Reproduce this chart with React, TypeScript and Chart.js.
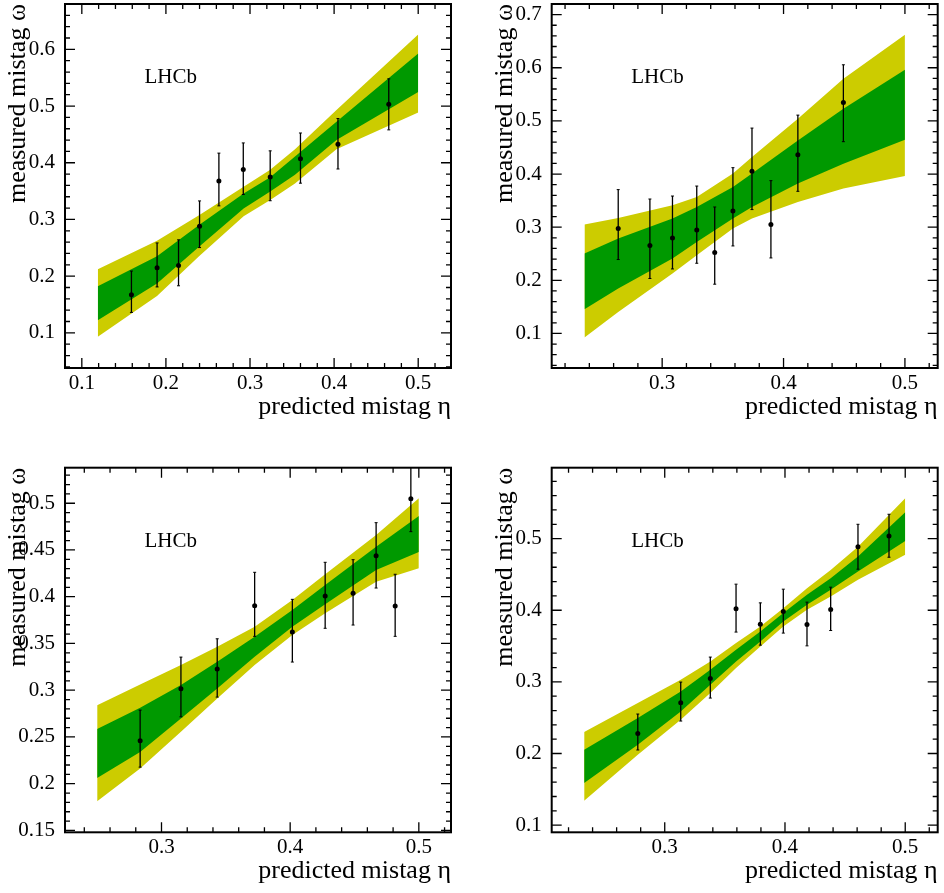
import React, { useEffect, useRef } from "react";
import { Chart, registerables } from "chart.js";

Chart.register(...registerables);

// ---------- Panel A (top left) ----------
const etaA = [0.159, 0.1895, 0.215, 0.240, 0.263, 0.292, 0.324, 0.360, 0.4046, 0.465];
const omegaA = [0.167, 0.2146, 0.2187, 0.288, 0.368, 0.388, 0.375, 0.407, 0.4326, 0.503];
const omegaHiA = [0.209, 0.2586, 0.264, 0.3327, 0.417, 0.435, 0.421, 0.4525, 0.478, 0.548];
const omegaLoA = [0.136, 0.181, 0.183, 0.2504, 0.324, 0.344, 0.333, 0.364, 0.389, 0.458];
const bandEtaA = [0.119, 0.1894, 0.2394, 0.2924, 0.3236, 0.3535, 0.4028, 0.5];
const twoSigUpA = [0.2123, 0.2623, 0.3076, 0.3575, 0.3870, 0.4240, 0.4930, 0.6263];
const oneSigUpA = [0.1824, 0.2353, 0.2900, 0.3458, 0.3741, 0.4110, 0.4722, 0.5928];
const oneSigLoA = [0.1224, 0.1871, 0.2517, 0.3194, 0.3487, 0.3790, 0.4400, 0.5250];
const twoSigLoA = [0.0930, 0.1650, 0.2353, 0.3058, 0.3340, 0.3635, 0.4240, 0.4887];
const xTicksA = [0.1, 0.2, 0.3, 0.4, 0.5];
const yTicksA = [0.1, 0.2, 0.3, 0.4, 0.5, 0.6];

// ---------- Panel B (top right) ----------
const etaB = [0.2638, 0.2899, 0.3085, 0.3285, 0.3433, 0.3583, 0.374, 0.3896, 0.4118, 0.4493];
const omegaB = [0.2974, 0.2654, 0.2797, 0.2947, 0.2523, 0.3305, 0.4051, 0.3049, 0.4365, 0.5348];
const omegaHiB = [0.3707, 0.353, 0.3586, 0.3774, 0.338, 0.412, 0.4865, 0.3876, 0.5109, 0.6056];
const omegaLoB = [0.2391, 0.2034, 0.2214, 0.2321, 0.1927, 0.2647, 0.3331, 0.2421, 0.3675, 0.4609];
const bandEtaB = [0.236, 0.2638, 0.3085, 0.3285, 0.3583, 0.374, 0.4118, 0.4493, 0.5];
const twoSigUpB = [0.3049, 0.3173, 0.3412, 0.3568, 0.4008, 0.432, 0.5041, 0.5793, 0.662];
const oneSigUpB = [0.2504, 0.2786, 0.3162, 0.338, 0.3756, 0.4008, 0.4633, 0.5229, 0.5962];
const oneSigLoB = [0.1457, 0.1846, 0.241, 0.2722, 0.3162, 0.338, 0.382, 0.4195, 0.4647];
const twoSigLoB = [0.0925, 0.1406, 0.2128, 0.2472, 0.2974, 0.3162, 0.3474, 0.3726, 0.3962];
const xTicksB = [0.3, 0.4, 0.5];
const yTicksB = [0.1, 0.2, 0.3, 0.4, 0.5, 0.6, 0.7];

// ---------- Panel C (bottom left) ----------
const etaC = [0.2834, 0.3151, 0.3433, 0.3724, 0.4017, 0.4272, 0.4489, 0.4668, 0.4816, 0.4938];
const omegaC = [0.2458, 0.3015, 0.3226, 0.3904, 0.3622, 0.4007, 0.4036, 0.4439, 0.39, 0.5049];
const omegaHiC = [0.2787, 0.3354, 0.355, 0.4261, 0.3972, 0.4368, 0.4396, 0.4792, 0.424, 0.54];
const omegaLoC = [0.2177, 0.2715, 0.2926, 0.3576, 0.3301, 0.3662, 0.3697, 0.4093, 0.3576, 0.4696];
const bandEtaC = [0.25, 0.2834, 0.3151, 0.3433, 0.3724, 0.4017, 0.4272, 0.4668, 0.5];
const twoSigUpC = [0.284, 0.3062, 0.3269, 0.3465, 0.3679, 0.3965, 0.424, 0.4661, 0.5054];
const oneSigUpC = [0.2584, 0.2812, 0.3055, 0.3304, 0.3572, 0.3858, 0.4125, 0.4535, 0.4864];
const oneSigLoC = [0.2062, 0.234, 0.2698, 0.3019, 0.3358, 0.3679, 0.3919, 0.4286, 0.4479];
const twoSigLoC = [0.1813, 0.2163, 0.2555, 0.2912, 0.3269, 0.359, 0.3822, 0.4161, 0.4304];
const xTicksC = [0.3, 0.4, 0.5];
const yTicksC = [0.15, 0.2, 0.25, 0.3, 0.35, 0.4, 0.45, 0.5];

// ---------- Panel D (bottom right) ----------
const etaD = [0.2776, 0.3133, 0.3379, 0.3593, 0.3795, 0.3986, 0.4183, 0.438, 0.4607, 0.4865];
const omegaD = [0.228, 0.2708, 0.3047, 0.402, 0.3806, 0.3982, 0.38, 0.401, 0.4888, 0.5038];
const omegaHiD = [0.2551, 0.2997, 0.3346, 0.4364, 0.4103, 0.4294, 0.4113, 0.4322, 0.52, 0.534];
const omegaLoD = [0.2049, 0.2453, 0.2774, 0.3695, 0.3513, 0.3681, 0.3503, 0.3717, 0.4573, 0.474];
const bandEtaD = [0.233, 0.2776, 0.3133, 0.3379, 0.3593, 0.3795, 0.3986, 0.4183, 0.438, 0.4607, 0.5];
const twoSigUpD = [0.2300, 0.2704, 0.3029, 0.3285, 0.3541, 0.3773, 0.4029, 0.4308, 0.4563, 0.4888, 0.5563];
const oneSigUpD = [0.2053, 0.2495, 0.2866, 0.3169, 0.3448, 0.3703, 0.3960, 0.4215, 0.4448, 0.4749, 0.5368];
const oneSigLoD = [0.1589, 0.2123, 0.2587, 0.2960, 0.3285, 0.3563, 0.3842, 0.4075, 0.4285, 0.4540, 0.4968];
const twoSigLoD = [0.1342, 0.1983, 0.2471, 0.2844, 0.3192, 0.3494, 0.3773, 0.4006, 0.4191, 0.4424, 0.4773];
const xTicksD = [0.3, 0.4, 0.5];
const yTicksD = [0.1, 0.2, 0.3, 0.4, 0.5];

const X_TITLE = "predicted mistag η";
const Y_TITLE = "measured mistag ω";
const LABEL = "LHCb";

const FONT = '"Liberation Serif", "Times New Roman", Times, serif';
const GREEN = "rgb(0,153,0)";
const YELLOW = "rgb(204,204,0)";

const fmt = (v: number) => String(Number(v.toFixed(3)));

const rootFramePlugin = {
  id: "rootFrame",
  beforeDatasetDraw(chart: any, args: any, opts: any) {
    if (args.index !== 0) return;
    const { ctx, chartArea: a, scales } = chart;
    const xs = scales.x;
    const ys = scales.y;
    ctx.save();
    ctx.beginPath();
    ctx.rect(a.left, a.top, a.right - a.left, a.bottom - a.top);
    ctx.clip();
    ctx.strokeStyle = "#000";
    ctx.lineWidth = 1.3;
    ctx.beginPath();
    opts.eta.forEach((e: number, i: number) => {
      const px = xs.getPixelForValue(e);
      ctx.moveTo(px, ys.getPixelForValue(opts.hi[i]));
      ctx.lineTo(px, ys.getPixelForValue(opts.lo[i]));
    });
    ctx.stroke();
    ctx.lineWidth = 1;
    ctx.beginPath();
    opts.eta.forEach((e: number, i: number) => {
      const px = xs.getPixelForValue(e);
      const hi = ys.getPixelForValue(opts.hi[i]);
      const lo = ys.getPixelForValue(opts.lo[i]);
      ctx.moveTo(px - 1.5, hi);
      ctx.lineTo(px + 1.5, hi);
      ctx.moveTo(px - 1.5, lo);
      ctx.lineTo(px + 1.5, lo);
    });
    ctx.stroke();
    ctx.restore();
  },
  afterDraw(chart: any, _args: any, opts: any) {
    const { ctx, chartArea: a, scales } = chart;
    const xs = scales.x;
    const ys = scales.y;
    const MAJ = 10;
    const MIN = 5;
    const marks = (majors: number[], lo: number, hi: number) => {
      const step = majors[1] - majors[0];
      const m = step / 5;
      const out: { v: number; major: boolean }[] = [];
      for (let k = -60; k <= 60 + (majors.length - 1) * 5; k++) {
        const v = majors[0] + k * m;
        if (v < lo - 1e-9 || v > hi + 1e-9) continue;
        out.push({ v, major: ((k % 5) + 5) % 5 === 0 });
      }
      return out;
    };
    ctx.save();
    ctx.strokeStyle = "#000";
    ctx.lineWidth = 1.3;
    ctx.beginPath();
    marks(opts.xTicks, xs.min, xs.max).forEach(({ v, major }) => {
      const px = xs.getPixelForValue(v);
      const len = major ? MAJ : MIN;
      ctx.moveTo(px, a.bottom);
      ctx.lineTo(px, a.bottom - len);
      ctx.moveTo(px, a.top);
      ctx.lineTo(px, a.top + len);
    });
    marks(opts.yTicks, ys.min, ys.max).forEach(({ v, major }) => {
      const py = ys.getPixelForValue(v);
      const len = major ? MAJ : MIN;
      ctx.moveTo(a.left, py);
      ctx.lineTo(a.left + len, py);
      ctx.moveTo(a.right, py);
      ctx.lineTo(a.right - len, py);
    });
    ctx.stroke();
    ctx.lineWidth = 2;
    ctx.strokeRect(a.left, a.top, a.right - a.left, a.bottom - a.top);
    ctx.fillStyle = "#000";
    ctx.font = `21px ${FONT}`;
    ctx.textAlign = "left";
    ctx.textBaseline = "alphabetic";
    ctx.fillText(opts.label, a.left + 79.5, a.top + 79);
    ctx.restore();
  },
};

type PanelProps = {
  left: number;
  top: number;
  w: number;
  h: number;
  pad: { left: number; top: number; right: number; bottom: number };
  xMin: number;
  xMax: number;
  yMin: number;
  yMax: number;
  eta: number[];
  omega: number[];
  hi: number[];
  lo: number[];
  bandEta: number[];
  twoUp: number[];
  oneUp: number[];
  oneLo: number[];
  twoLo: number[];
  xTicks: number[];
  yTicks: number[];
};

function Panel(p: PanelProps) {
  const ref = useRef<HTMLCanvasElement>(null);
  useEffect(() => {
    const pts = p.eta.map((x, i) => ({ x, y: p.omega[i] }));
    const line = (ys: number[]) => p.bandEta.map((x, i) => ({ x, y: ys[i] }));
    const bandStyle = {
      showLine: true,
      borderWidth: 1,
      borderColor: "rgba(0,0,0,0)",
      pointRadius: 0,
      tension: 0,
    };
    const zeroPad = (s: any) => {
      s.paddingTop = 0;
      s.paddingBottom = 0;
      s.paddingLeft = 0;
      s.paddingRight = 0;
    };
    const chart = new Chart(ref.current as HTMLCanvasElement, {
      type: "line",
      data: {
        datasets: [
          {
            label: "data",
            data: pts,
            showLine: false,
            pointRadius: 2.5,
            pointBackgroundColor: "#000",
            pointBorderColor: "#000",
            pointBorderWidth: 0,
          },
          { label: "1σ up", data: line(p.oneUp), ...bandStyle, fill: "+1", backgroundColor: GREEN },
          { label: "1σ low", data: line(p.oneLo), ...bandStyle, fill: false },
          { label: "2σ up", data: line(p.twoUp), ...bandStyle, fill: "+1", backgroundColor: YELLOW },
          { label: "2σ low", data: line(p.twoLo), ...bandStyle, fill: false },
        ],
      } as any,
      options: {
        responsive: false,
        animation: false,
        devicePixelRatio: 1,
        events: [],
        layout: { padding: p.pad },
        plugins: {
          legend: { display: false },
          tooltip: { enabled: false },
          rootFrame: {
            eta: p.eta,
            hi: p.hi,
            lo: p.lo,
            xTicks: p.xTicks,
            yTicks: p.yTicks,
            label: LABEL,
          },
        } as any,
        scales: {
          x: {
            type: "linear",
            min: p.xMin,
            max: p.xMax,
            afterBuildTicks: (s: any) => {
              s.ticks = p.xTicks.map((v) => ({ value: v }));
            },
            afterFit: (s: any) => {
              s.height = 60;
              zeroPad(s);
            },
            grid: { display: false, drawTicks: false },
            border: { display: false },
            ticks: {
              color: "#000",
              font: { family: FONT, size: 21 },
              padding: 3,
              autoSkip: false,
              maxRotation: 0,
              callback: (v: any) => fmt(Number(v)),
            },
            title: {
              display: true,
              text: X_TITLE,
              align: "end",
              color: "#000",
              font: { family: FONT, size: 26 },
              padding: { top: 0, bottom: 5.4 },
            },
          },
          y: {
            type: "linear",
            min: p.yMin,
            max: p.yMax,
            afterBuildTicks: (s: any) => {
              s.ticks = p.yTicks.map((v) => ({ value: v }));
            },
            afterFit: (s: any) => {
              s.width = 65;
              zeroPad(s);
            },
            grid: { display: false, drawTicks: false },
            border: { display: false },
            ticks: {
              color: "#000",
              font: { family: FONT, size: 21 },
              padding: 10,
              autoSkip: false,
              callback: (v: any) => fmt(Number(v)),
            },
            title: {
              display: true,
              text: Y_TITLE,
              align: "end",
              color: "#000",
              font: { family: FONT, size: 26 },
              padding: { top: 3, bottom: 0 },
            },
          },
        },
      } as any,
      plugins: [rootFramePlugin as any],
    });
    return () => chart.destroy();
  }, []);
  return (
    <canvas
      ref={ref}
      width={p.w}
      height={p.h}
      style={{ position: "absolute", left: p.left, top: p.top, width: p.w, height: p.h }}
    />
  );
}

export default function App() {
  return (
    <div
      style={{
        position: "absolute",
        left: 0,
        top: 0,
        width: 944,
        height: 893,
        background: "#fff",
        overflow: "hidden",
      }}
    >
      <Panel
        left={0}
        top={0}
        w={472}
        h={446}
        pad={{ left: 0, top: 3.7, right: 21, bottom: 18 }}
        xMin={0.08}
        xMax={0.539}
        yMin={0.038}
        yMax={0.68}
        eta={etaA}
        omega={omegaA}
        hi={omegaHiA}
        lo={omegaLoA}
        bandEta={bandEtaA}
        twoUp={twoSigUpA}
        oneUp={oneSigUpA}
        oneLo={oneSigLoA}
        twoLo={twoSigLoA}
        xTicks={xTicksA}
        yTicks={yTicksA}
      />
      <Panel
        left={472}
        top={0}
        w={472}
        h={446}
        pad={{ left: 14.7, top: 3.7, right: 6.3, bottom: 18 }}
        xMin={0.209}
        xMax={0.527}
        yMin={0.035}
        yMax={0.72}
        eta={etaB}
        omega={omegaB}
        hi={omegaHiB}
        lo={omegaLoB}
        bandEta={bandEtaB}
        twoUp={twoSigUpB}
        oneUp={oneSigUpB}
        oneLo={oneSigLoB}
        twoLo={twoSigLoB}
        xTicks={xTicksB}
        yTicks={yTicksB}
      />
      <Panel
        left={0}
        top={446}
        w={472}
        h={447}
        pad={{ left: 0, top: 21.7, right: 21, bottom: 0.7 }}
        xMin={0.225}
        xMax={0.525}
        yMin={0.148}
        yMax={0.538}
        eta={etaC}
        omega={omegaC}
        hi={omegaHiC}
        lo={omegaLoC}
        bandEta={bandEtaC}
        twoUp={twoSigUpC}
        oneUp={oneSigUpC}
        oneLo={oneSigLoC}
        twoLo={twoSigLoC}
        xTicks={xTicksC}
        yTicks={yTicksC}
      />
      <Panel
        left={472}
        top={446}
        w={472}
        h={447}
        pad={{ left: 14.7, top: 21.7, right: 6.3, bottom: 0.7 }}
        xMin={0.206}
        xMax={0.527}
        yMin={0.09}
        yMax={0.599}
        eta={etaD}
        omega={omegaD}
        hi={omegaHiD}
        lo={omegaLoD}
        bandEta={bandEtaD}
        twoUp={twoSigUpD}
        oneUp={oneSigUpD}
        oneLo={oneSigLoD}
        twoLo={twoSigLoD}
        xTicks={xTicksD}
        yTicks={yTicksD}
      />
    </div>
  );
}
